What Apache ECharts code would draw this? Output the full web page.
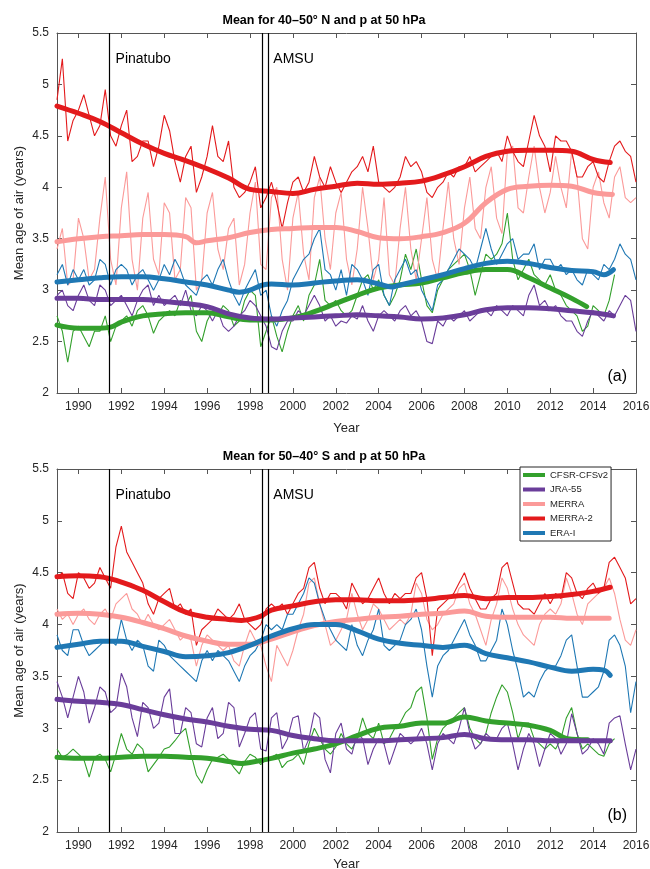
<!DOCTYPE html>
<html>
<head>
<meta charset="utf-8">
<script src="https://cdn.jsdelivr.net/npm/echarts@6/dist/echarts.min.js"></script>
<style>
  html, body { margin: 0; padding: 0; background: #fff; }
  #chart { width: 650px; height: 869px; }
</style>
</head>
<body>
<div id="chart"></div>
<script>
// ---------------------------------------------------------------
// Mean age of air at 50 hPa from five reanalyses.
// Thin lines: quarterly samples starting 1989.0 (step 0.25 yr).
// Thick lines: smoothed trend, [year, value] pairs.
// ---------------------------------------------------------------
const YEAR_TICKS = [1990, 1992, 1994, 1996, 1998, 2000, 2002, 2004, 2006, 2008, 2010, 2012, 2014, 2016];
const X_MIN = 1989, X_MAX = 2016;
const Y_MIN = 2, Y_MAX = 5.5, Y_STEP = 0.5;
const SAMPLE_START = 1989, SAMPLE_STEP = 0.25;

const PINATUBO = 1991.45;
const AMSU = [1998.58, 1998.83];

const DATASETS = ['CFSR-CFSv2', 'JRA-55', 'MERRA', 'MERRA-2', 'ERA-I'];
const COLORS = ['#33a02c', '#6a3d9a', '#fb9a99', '#e31a1c', '#1f78b4'];

// ---------- (a) 40–50° N ----------
const cfsrA = [
  2.75, 2.6, 2.3, 2.6,
  2.65, 2.55, 2.45, 2.6,
  2.6, 2.75, 2.5, 2.65,
  2.7, 2.75, 2.65, 2.8,
  2.85, 2.75, 2.58, 2.7,
  2.75, 2.8, 2.75, 2.9,
  2.85, 2.95, 2.6, 2.5,
  2.7, 2.8, 2.75, 2.85,
  2.8, 2.65, 2.7, 2.9,
  3.0, 2.95, 2.45, 2.6,
  2.75, 2.55, 2.4, 2.6,
  2.75, 2.85, 2.7, 2.95,
  3.05, 3.3, 2.9, 2.85,
  2.9, 2.8, 2.75, 2.8,
  2.95, 3.1, 3.15, 3.0,
  3.1, 2.95, 2.85, 2.95,
  3.1, 3.35, 3.2, 3.4,
  3.1, 2.85, 2.78, 3.0,
  3.1, 3.2, 3.25, 3.3,
  3.35, 3.2, 2.95, 3.15,
  3.35, 3.3, 3.35, 3.45,
  3.75, 3.3, 3.1, 3.2,
  3.3, 3.15, 3.1, 3.05,
  3.15, 3.0, 2.95, 2.85,
  2.8, 2.75, 2.6, 2.65,
  2.85, 2.8, 2.75, 2.9,
  3.15
];
const jraA = [
  2.95, 3.0, 2.85, 2.8,
  2.95, 3.05, 2.9, 2.85,
  3.05, 3.0, 2.85, 2.9,
  2.95, 2.85, 2.75, 2.9,
  3.0, 3.05, 2.85, 2.95,
  2.85, 2.9, 2.95, 2.85,
  3.0, 2.8, 2.75, 2.85,
  2.8, 2.7, 2.8, 2.65,
  2.6, 2.65, 2.75, 2.8,
  2.9, 2.85, 2.75, 2.65,
  2.45, 2.42, 2.6, 2.7,
  2.7, 2.8, 2.75, 2.85,
  2.95, 2.85, 2.7, 2.75,
  2.65, 2.7, 2.68, 2.75,
  2.72, 2.85, 2.7, 2.6,
  2.75, 2.8, 2.75, 2.7,
  2.8, 2.85, 2.75, 2.8,
  2.7, 2.5, 2.48, 2.7,
  2.65, 2.75, 2.7, 2.75,
  2.8, 2.7, 2.75, 2.8,
  2.8, 2.75, 2.85, 2.8,
  2.75, 2.85, 2.8, 2.75,
  2.95, 3.05, 2.85, 2.9,
  2.8, 2.85, 2.75, 2.7,
  2.7, 2.6, 2.55, 2.7,
  2.8, 2.75, 2.7, 2.8,
  2.75, 2.85, 2.95, 2.9,
  2.6
];
const merraA = [
  3.4, 3.6, 3.05, 3.1,
  3.7, 3.5, 3.1, 3.2,
  3.7, 4.1, 3.3, 3.05,
  3.8, 4.15, 3.3, 3.0,
  3.7, 3.95, 3.3, 3.15,
  3.85, 3.75, 3.1, 3.2,
  3.9, 3.8, 3.0, 3.1,
  3.75, 3.95, 3.4, 3.2,
  3.6, 3.7, 3.05, 3.25,
  3.75, 4.05, 3.25, 3.2,
  3.9, 4.0, 3.3, 3.0,
  3.7, 3.95, 3.35, 3.1,
  3.9, 4.1, 3.5, 3.2,
  3.75, 3.95, 3.3, 3.05,
  3.4, 4.0, 3.6, 3.1,
  3.3, 3.9, 3.15, 3.05,
  3.6, 4.0, 3.4, 3.1,
  3.5, 3.9, 3.3, 3.1,
  3.6, 4.05, 3.5, 3.25,
  3.8, 4.1, 3.6, 3.5,
  4.0, 4.2, 3.7, 3.55,
  4.35, 4.4, 3.8, 3.75,
  4.1, 4.4, 4.0, 3.75,
  3.95, 4.3, 4.0, 3.8,
  4.35, 4.1, 3.5, 3.4,
  4.0, 4.15, 3.85, 3.7,
  4.1, 4.2, 3.9, 3.85,
  3.9
];
const merra2A = [
  4.85, 5.25, 4.45, 4.65,
  4.75, 4.9, 4.7, 4.5,
  4.6, 4.95, 4.5, 4.4,
  4.6, 4.75, 4.25, 4.3,
  4.45, 4.45, 4.2, 4.4,
  4.7, 4.55, 4.25, 4.05,
  4.3, 4.4, 3.95, 4.1,
  4.3, 4.6, 4.3, 4.25,
  4.45, 4.0, 3.9, 3.95,
  4.05, 4.2, 3.8, 3.9,
  4.05, 3.85, 3.6, 3.85,
  4.05, 4.1, 3.95, 4.05,
  4.3, 4.1, 4.0, 4.2,
  4.05, 3.95, 4.05, 4.15,
  4.2, 4.3, 4.15, 4.4,
  4.05, 4.0, 3.95, 4.0,
  4.1, 4.3, 4.2, 4.25,
  4.15, 3.95, 3.9, 4.0,
  4.05, 4.15, 4.1, 4.2,
  4.2, 4.3, 4.15, 4.2,
  4.25, 4.3, 4.35, 4.25,
  4.5, 4.35, 4.25, 4.2,
  4.45, 4.7, 4.5, 4.4,
  4.15, 4.5, 4.45, 4.45,
  4.35, 4.1, 4.1, 4.2,
  4.25, 4.1, 4.05, 4.25,
  4.4, 4.45, 4.35, 4.3,
  4.05
];
const eraiA = [
  3.15, 3.25, 3.05, 3.2,
  3.1, 3.2, 3.05, 3.1,
  3.3, 3.25, 3.05, 3.2,
  3.25, 3.2, 3.05, 3.15,
  3.2, 3.1, 3.0, 3.1,
  3.25, 3.15, 3.3, 3.2,
  3.05, 3.0, 2.95, 3.1,
  3.15, 3.05, 3.2, 3.3,
  3.1, 2.95, 2.85, 3.0,
  3.1, 3.2, 2.95, 3.0,
  2.75, 2.65, 2.8, 2.9,
  3.1, 3.2, 3.3, 3.35,
  3.5, 3.6, 3.2, 3.15,
  3.0, 3.2, 2.95, 3.25,
  3.2, 3.1, 2.95, 3.2,
  3.25, 2.95, 2.85, 3.1,
  3.2, 3.3, 3.15, 3.2,
  3.0, 2.9, 2.8, 3.05,
  3.1, 3.2, 3.3, 3.4,
  3.35, 3.3, 3.2, 3.4,
  3.6, 3.4, 3.25, 3.35,
  3.45, 3.5, 3.3, 3.35,
  3.35, 3.45, 3.2, 3.3,
  3.3, 3.2, 3.25, 3.15,
  3.2, 3.1, 3.05, 3.2,
  3.15, 3.1, 3.25, 3.2,
  3.3, 3.45, 3.35, 3.3,
  3.1
];

const cfsrSmoothA = [[1989, 2.66], [1990, 2.63], [1991, 2.63], [1991.5, 2.64], [1992, 2.69], [1993, 2.75], [1994, 2.77], [1995, 2.78], [1996, 2.78], [1997, 2.74], [1998, 2.71], [1999, 2.71], [2000, 2.73], [2001, 2.79], [2002, 2.87], [2003, 2.95], [2004, 3.02], [2005, 3.05], [2006, 3.07], [2007, 3.12], [2008, 3.17], [2009, 3.2], [2010, 3.2], [2011, 3.12], [2012, 3.02], [2013, 2.92], [2013.7, 2.84]];
const jraSmoothA = [[1989, 2.92], [1990, 2.92], [1991, 2.91], [1992, 2.91], [1993, 2.91], [1994, 2.89], [1995, 2.87], [1996, 2.84], [1997, 2.77], [1998, 2.73], [1999, 2.72], [2000, 2.73], [2001, 2.74], [2002, 2.75], [2003, 2.76], [2004, 2.75], [2005, 2.74], [2006, 2.72], [2007, 2.73], [2008, 2.76], [2009, 2.81], [2010, 2.83], [2011, 2.83], [2012, 2.82], [2013, 2.8], [2014, 2.78], [2014.95, 2.75]];
const merraSmoothA = [[1989, 3.47], [1990, 3.5], [1991, 3.52], [1992, 3.53], [1993, 3.54], [1994, 3.54], [1995, 3.52], [1995.5, 3.46], [1996, 3.48], [1997, 3.51], [1998, 3.56], [1999, 3.59], [2000, 3.6], [2001, 3.61], [2002, 3.61], [2003, 3.57], [2004, 3.51], [2005, 3.5], [2006, 3.52], [2007, 3.56], [2008, 3.65], [2009, 3.85], [2010, 3.98], [2011, 4.01], [2012, 4.02], [2013, 4.01], [2014, 3.95], [2014.9, 3.93]];
const merra2SmoothA = [[1989, 4.79], [1990, 4.72], [1991, 4.64], [1992, 4.53], [1993, 4.42], [1994, 4.33], [1995, 4.26], [1996, 4.18], [1997, 4.09], [1998, 3.98], [1999, 3.96], [2000, 3.94], [2001, 3.98], [2002, 4.01], [2003, 4.04], [2004, 4.03], [2005, 4.04], [2006, 4.06], [2007, 4.12], [2008, 4.2], [2009, 4.3], [2010, 4.35], [2011, 4.36], [2012, 4.36], [2013, 4.35], [2014, 4.27], [2014.8, 4.24]];
const eraiSmoothA = [[1989, 3.08], [1990, 3.1], [1991, 3.12], [1992, 3.13], [1993, 3.13], [1994, 3.11], [1995, 3.08], [1996, 3.05], [1997, 3.0], [1997.5, 2.98], [1998, 3.0], [1998.6, 3.05], [1999, 3.06], [2000, 3.05], [2001, 3.07], [2002, 3.09], [2003, 3.1], [2004, 3.06], [2004.6, 3.03], [2005, 3.05], [2006, 3.1], [2007, 3.15], [2008, 3.21], [2009, 3.26], [2010, 3.28], [2011, 3.26], [2012, 3.22], [2013, 3.19], [2014, 3.18], [2014.5, 3.15], [2014.95, 3.2]];

// ---------- (b) 50–40° S ----------
const cfsrB = [
  2.8, 2.72, 2.75, 2.8,
  2.75, 2.7, 2.53, 2.72,
  2.75, 2.7, 2.58, 2.75,
  2.95, 2.8, 2.75, 2.85,
  2.8, 2.58, 2.65, 2.72,
  2.8, 2.82, 2.88, 2.95,
  3.0, 2.75, 2.55, 2.47,
  2.6, 2.7, 2.72, 2.75,
  2.7, 2.62, 2.56, 2.68,
  2.75, 2.72, 2.65, 2.7,
  2.72, 2.75, 2.62, 2.68,
  2.7, 2.75, 2.65, 2.85,
  3.0, 2.9, 2.8, 2.75,
  2.82, 2.95, 2.85, 2.8,
  2.9, 3.1, 2.95, 2.9,
  3.05, 2.85, 2.9, 3.0,
  3.05, 3.15, 3.2, 3.35,
  3.4, 3.1, 2.7, 2.9,
  3.0, 3.05, 3.1, 3.15,
  3.2, 3.0, 2.9, 2.85,
  2.95, 3.15, 3.3, 3.42,
  3.35, 3.15, 2.9, 3.05,
  3.05, 2.9, 2.85, 2.8,
  2.85, 2.8, 2.9, 3.1,
  3.2, 2.95, 2.8, 2.85,
  2.8, 2.75, 2.73, 2.85,
  2.9
];
const jraB = [
  3.45, 3.3, 3.1, 3.3,
  3.5, 3.35, 3.05, 3.2,
  3.4, 3.35, 3.15, 3.2,
  3.53, 3.4, 3.1, 2.92,
  3.25, 3.2, 3.0, 3.05,
  3.3, 3.38, 2.95, 2.95,
  3.2, 3.15, 2.85, 2.82,
  3.1, 3.2, 2.9, 2.95,
  3.25, 3.2, 2.82, 2.95,
  3.1, 3.15, 2.8, 2.78,
  3.1, 3.15, 2.8, 2.9,
  3.1, 3.12, 2.78, 2.9,
  3.15, 3.1, 2.7, 2.57,
  2.95, 3.05, 2.8, 2.75,
  2.95, 2.9, 2.65, 2.8,
  2.9, 2.85, 2.65, 2.8,
  2.95, 2.9, 2.85, 2.9,
  3.0, 2.85, 2.6, 2.85,
  2.95, 2.9, 2.85, 3.0,
  3.2, 2.95, 2.8, 2.85,
  2.95, 2.9, 2.9, 3.0,
  3.05, 2.85, 2.6, 2.8,
  2.95, 2.85, 2.63, 2.8,
  2.95, 2.9, 2.75, 2.85,
  3.14, 2.95, 2.75, 2.8,
  2.9, 2.85, 2.75, 3.05,
  3.1, 3.12, 2.85, 2.6,
  2.8
];
const merraB = [
  4.15, 4.05, 4.1, 4.0,
  4.1, 4.15, 4.05, 4.0,
  4.1, 4.15, 4.05, 4.2,
  4.25, 4.3, 4.15, 4.1,
  4.0, 4.1, 4.0, 3.95,
  4.0, 4.05, 3.95, 3.85,
  3.9, 3.85, 3.6, 3.8,
  3.9, 3.85, 3.8, 3.75,
  3.8, 3.65, 3.6, 3.8,
  3.95, 3.85, 3.8, 3.6,
  3.45, 3.8, 3.7, 3.6,
  3.75, 3.95, 4.1, 4.4,
  4.45, 4.2, 4.0, 3.8,
  3.85, 3.95, 4.05, 4.3,
  4.1, 3.95, 4.05, 4.2,
  4.15, 4.05, 3.95, 4.0,
  4.05, 4.0, 4.1, 4.4,
  4.3, 4.05, 3.95, 4.0,
  4.1, 4.15, 4.2, 4.35,
  4.4, 4.2, 4.1, 3.95,
  3.8, 4.05, 4.2, 4.45,
  4.35, 4.15, 4.0, 3.9,
  3.85, 3.8, 4.0, 4.1,
  4.15, 4.1, 4.2, 4.45,
  4.3, 4.1, 4.0, 4.2,
  4.25, 4.3, 4.35, 4.45,
  4.3, 4.05, 3.85, 3.8,
  3.95
];
const merra2B = [
  4.45, 4.5, 4.3, 4.25,
  4.5, 4.45, 4.35, 4.4,
  4.55, 4.45, 4.35, 4.75,
  4.95, 4.7, 4.6, 4.5,
  4.4, 4.2, 4.1, 4.25,
  4.3, 4.35, 4.15, 4.2,
  4.1, 4.15, 3.8, 3.95,
  4.0, 4.05, 4.15, 4.1,
  4.05, 4.1, 4.2, 4.05,
  4.0, 3.95, 4.0, 4.15,
  4.2, 4.15, 4.2, 4.1,
  4.2, 4.3, 4.35, 4.55,
  4.6, 4.35, 4.2, 4.3,
  4.3, 4.25, 4.15, 4.4,
  4.3, 4.2, 4.25, 4.35,
  4.45, 4.3, 4.2, 4.3,
  4.25, 4.3, 4.3, 4.45,
  4.5, 4.25, 3.7, 4.15,
  4.2, 4.25, 4.3, 4.4,
  4.5, 4.35, 4.25, 4.15,
  4.15, 4.25, 4.3, 4.55,
  4.6, 4.4, 4.2, 4.15,
  4.15, 4.1, 4.2, 4.3,
  4.2, 4.3, 4.25, 4.5,
  4.45, 4.3, 4.25, 4.35,
  4.4, 4.3, 4.35, 4.6,
  4.65, 4.55, 4.45, 4.2,
  4.25
];
const eraiB = [
  3.9, 3.75, 3.7, 3.95,
  3.95, 3.8, 3.7, 3.75,
  3.8, 3.85, 3.85, 3.8,
  4.05, 3.85, 3.75, 3.85,
  3.8, 3.6, 3.55, 3.85,
  3.8, 3.7, 3.65, 3.6,
  3.55, 3.5, 3.45, 3.65,
  3.75, 3.65, 3.75, 3.7,
  3.65, 3.55, 3.45, 3.6,
  3.7, 3.75, 3.85, 4.0,
  3.95, 4.0, 3.95, 4.1,
  4.1, 4.2, 4.3, 4.45,
  4.4, 4.2, 4.05, 3.95,
  3.85, 3.8, 3.75, 4.0,
  3.8, 3.7, 3.85, 3.95,
  4.15, 3.8, 3.75, 3.8,
  3.85, 4.0, 4.05, 4.15,
  3.95, 3.6, 3.3, 3.6,
  3.7, 3.75, 3.85, 3.95,
  4.05, 3.9, 3.8, 3.65,
  3.65, 3.75, 3.85, 4.15,
  4.0, 3.75, 3.55, 3.3,
  3.35, 3.3, 3.45, 3.55,
  3.6, 3.6, 3.7, 3.85,
  3.9, 3.6, 3.3, 3.3,
  3.35, 3.4, 3.55, 3.85,
  3.9, 3.8, 3.6, 3.15,
  3.45
];

const cfsrSmoothB = [[1989, 2.72], [1990, 2.71], [1991, 2.71], [1992, 2.72], [1993, 2.73], [1994, 2.73], [1995, 2.72], [1996, 2.71], [1997, 2.68], [1997.6, 2.66], [1998, 2.67], [1999, 2.71], [2000, 2.76], [2001, 2.8], [2002, 2.85], [2003, 2.93], [2004, 3.0], [2005, 3.02], [2006, 3.05], [2007, 3.05], [2008, 3.11], [2009, 3.07], [2010, 3.05], [2011, 3.03], [2012, 2.98], [2012.8, 2.9], [2013.75, 2.89]];
const jraSmoothB = [[1989, 3.28], [1990, 3.26], [1991, 3.25], [1992, 3.23], [1993, 3.18], [1994, 3.13], [1995, 3.09], [1996, 3.06], [1997, 3.02], [1998, 2.99], [1999, 2.98], [2000, 2.93], [2001, 2.9], [2002, 2.88], [2003, 2.88], [2004, 2.88], [2005, 2.89], [2006, 2.9], [2007, 2.91], [2008, 2.94], [2009, 2.9], [2010, 2.89], [2011, 2.89], [2012, 2.88], [2013, 2.88], [2014, 2.88], [2014.8, 2.88]];
const merraSmoothB = [[1989, 4.1], [1990, 4.11], [1991, 4.1], [1992, 4.07], [1993, 4.02], [1994, 3.96], [1995, 3.89], [1996, 3.84], [1997, 3.81], [1998, 3.81], [1999, 3.86], [2000, 3.93], [2001, 3.99], [2002, 4.03], [2003, 4.05], [2004, 4.07], [2005, 4.08], [2006, 4.1], [2007, 4.11], [2008, 4.13], [2009, 4.08], [2010, 4.07], [2011, 4.07], [2012, 4.07], [2013, 4.06], [2014, 4.06], [2014.75, 4.06]];
const merra2SmoothB = [[1989, 4.46], [1990, 4.47], [1991, 4.46], [1991.5, 4.44], [1992, 4.41], [1993, 4.33], [1994, 4.22], [1995, 4.12], [1996, 4.07], [1997, 4.05], [1997.6, 4.04], [1998, 4.05], [1998.5, 4.08], [1999, 4.14], [2000, 4.18], [2001, 4.22], [2002, 4.24], [2003, 4.24], [2004, 4.23], [2005, 4.23], [2006, 4.24], [2007, 4.26], [2008, 4.28], [2009, 4.25], [2010, 4.26], [2011, 4.26], [2012, 4.27], [2013, 4.29], [2014, 4.32], [2014.8, 4.36]];
const eraiSmoothB = [[1989, 3.78], [1990, 3.81], [1991, 3.84], [1992, 3.84], [1993, 3.79], [1994, 3.74], [1995, 3.69], [1996, 3.7], [1997, 3.73], [1998, 3.8], [1999, 3.89], [2000, 3.96], [2001, 4.0], [2002, 4.0], [2003, 3.94], [2004, 3.86], [2005, 3.82], [2006, 3.8], [2007, 3.78], [2008, 3.8], [2009, 3.72], [2010, 3.68], [2011, 3.64], [2012, 3.59], [2013, 3.55], [2014, 3.57], [2014.5, 3.56], [2014.8, 3.51]];

const PANELS = [
  {
    title: 'Mean for 40–50° N and p at 50 hPa', tag: '(a)', suffix: ' N', nameGap: 29,
    thin: [cfsrA, jraA, merraA, merra2A, eraiA],
    smooth: [cfsrSmoothA, jraSmoothA, merraSmoothA, merra2SmoothA, eraiSmoothA]
  },
  {
    title: 'Mean for 50–40° S and p at 50 hPa', tag: '(b)', suffix: '', nameGap: 26,
    thin: [cfsrB, jraB, merraB, merra2B, eraiB],
    smooth: [cfsrSmoothB, jraSmoothB, merraSmoothB, merra2SmoothB, eraiSmoothB]
  }
];

// ---------- chart ----------
const FONT = '"Liberation Sans", Arial, Helvetica, sans-serif';
const AXIS_COLOR = '#555555';
const TEXT_COLOR = '#262626';

const GRIDS = [
  { left: 57, top: 33, width: 579, height: 360, outerBoundsMode: 'none', containLabel: false },
  { left: 57, top: 469, width: 579, height: 363, outerBoundsMode: 'none', containLabel: false }
];

function onGrid(values) {
  return values.map((v, i) => [SAMPLE_START + i * SAMPLE_STEP, v]);
}

function xAxesFor(gi, nameGap) {
  const base = {
    type: 'value', gridIndex: gi, min: X_MIN, max: X_MAX,
    axisLine: { show: true, onZero: false, lineStyle: { color: AXIS_COLOR, width: 1 } },
    axisTick: { show: true, inside: true, length: 5, customValues: YEAR_TICKS, lineStyle: { color: AXIS_COLOR } },
    splitLine: { show: false }
  };
  return [
    Object.assign({}, base, {
      position: 'bottom',
      axisLabel: {
        customValues: YEAR_TICKS, color: TEXT_COLOR, fontSize: 12, margin: 8, fontFamily: FONT,
        formatter: v => String(v)
      },
      name: 'Year', nameLocation: 'middle', nameGap: nameGap, nameMoveOverlap: false,
      nameTextStyle: { color: TEXT_COLOR, fontSize: 13, fontFamily: FONT }
    }),
    Object.assign({}, base, { position: 'top', axisLabel: { show: false } })
  ];
}

function yAxesFor(gi) {
  const base = {
    type: 'value', gridIndex: gi, min: Y_MIN, max: Y_MAX, interval: Y_STEP,
    axisLine: { show: true, onZero: false, lineStyle: { color: AXIS_COLOR, width: 1 } },
    axisTick: { show: true, inside: true, length: 5, lineStyle: { color: AXIS_COLOR } },
    splitLine: { show: false }
  };
  return [
    Object.assign({}, base, {
      position: 'left',
      axisLabel: { color: TEXT_COLOR, fontSize: 12, margin: 8, fontFamily: FONT },
      name: 'Mean age of air (years)', nameLocation: 'middle', nameGap: 31, nameMoveOverlap: false,
      nameTextStyle: { color: TEXT_COLOR, fontSize: 13, fontFamily: FONT }
    }),
    Object.assign({}, base, { position: 'right', axisLabel: { show: false } })
  ];
}

const xAxis = [], yAxis = [], series = [];
PANELS.forEach((p, gi) => {
  xAxis.push(...xAxesFor(gi, p.nameGap));
  yAxis.push(...yAxesFor(gi));
  const ax = { xAxisIndex: gi * 2, yAxisIndex: gi * 2 };
  // raw quarterly curves
  p.thin.forEach((vals, k) => {
    series.push(Object.assign({
      type: 'line', name: DATASETS[k] + ' raw' + p.suffix, data: onGrid(vals),
      symbol: 'none', showSymbol: false, silent: true, z: 2,
      lineStyle: { color: COLORS[k], width: 1.1 }, itemStyle: { color: COLORS[k] }
    }, ax));
  });
  // smoothed trends
  p.smooth.forEach((pts, k) => {
    series.push(Object.assign({
      type: 'line', name: DATASETS[k] + p.suffix, data: pts, smooth: 0.4,
      symbol: 'none', showSymbol: false, silent: true, z: 3,
      lineStyle: { color: COLORS[k], width: 5, cap: 'round', join: 'round' },
      itemStyle: { color: COLORS[k] }
    }, ax));
  });
  // event markers
  series.push(Object.assign({
    type: 'line', name: 'events' + gi, data: [], silent: true, z: 4,
    markLine: {
      silent: true, symbol: ['none', 'none'], animation: false,
      label: { show: false },
      lineStyle: { color: '#000', width: 1.2, type: 'solid' },
      data: [{ xAxis: PINATUBO }, { xAxis: AMSU[0] }, { xAxis: AMSU[1] }]
    }
  }, ax));
});

const chart = echarts.init(document.getElementById('chart'), null, { renderer: 'canvas' });
chart.setOption({
  animation: false,
  backgroundColor: '#ffffff',
  textStyle: { fontFamily: FONT },
  grid: GRIDS,
  xAxis, yAxis, series,
  legend: {
    data: DATASETS, orient: 'vertical', left: 520, top: 467,
    icon: 'rect', itemWidth: 22, itemHeight: 4, itemGap: 2.5,
    padding: [2, 3, 2, 3], borderColor: TEXT_COLOR, borderWidth: 1, backgroundColor: '#fff',
    textStyle: { fontSize: 9.5, lineHeight: 12, color: TEXT_COLOR, fontFamily: FONT },
    selectedMode: false
  }
});

// Annotation text placed from the axes' own coordinate conversion
const graphic = [];
PANELS.forEach((p, gi) => {
  const finder = { xAxisIndex: gi * 2, yAxisIndex: gi * 2 };
  const topLeft = chart.convertToPixel(finder, [X_MIN, Y_MAX]);
  const botRight = chart.convertToPixel(finder, [X_MAX, Y_MIN]);
  const pin = chart.convertToPixel(finder, [PINATUBO, Y_MAX]);
  const amsu = chart.convertToPixel(finder, [AMSU[1], Y_MAX]);
  graphic.push(
    { type: 'text', x: 324, y: topLeft[1] - 12, z: 10,
      style: { text: p.title, font: 'bold 12.5px ' + FONT, fill: '#000', align: 'center', verticalAlign: 'middle' } },
    { type: 'text', x: pin[0] + 6, y: topLeft[1] + 26, z: 10,
      style: { text: 'Pinatubo', font: '14px ' + FONT, fill: '#000', align: 'left', verticalAlign: 'middle' } },
    { type: 'text', x: amsu[0] + 5.5, y: topLeft[1] + 26, z: 10,
      style: { text: 'AMSU', font: '14px ' + FONT, fill: '#000', align: 'left', verticalAlign: 'middle' } },
    { type: 'text', x: botRight[0] - 9, y: botRight[1] - 16, z: 10,
      style: { text: p.tag, font: '16px ' + FONT, fill: '#000', align: 'right', verticalAlign: 'middle' } }
  );
});
chart.setOption({ graphic });
</script>
</body>
</html>
